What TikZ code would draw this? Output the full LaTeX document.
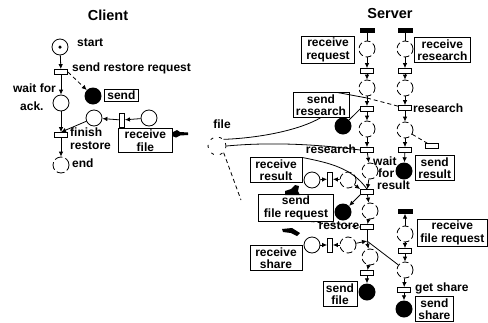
\documentclass[tikz,border=0pt]{standalone}
\usepackage{fontspec}
\setmainfont{Liberation Sans}
\usetikzlibrary{arrows.meta}

\tikzset{
  txt/.style={font=\bfseries\fontsize{12}{12.5}\selectfont, inner sep=0pt, align=left},
  ttl/.style={font=\bfseries\fontsize{14.5}{14}\selectfont, inner sep=0pt},
  lbox/.style={txt, draw, line width=0.7pt, inner xsep=3pt, inner ysep=1.5pt, align=center},
  place/.style={circle, draw, line width=0.8pt, minimum size=16pt, inner sep=0pt},
  dplace/.style={place, dash pattern=on 6pt off 3pt},
  token/.style={circle, fill=black, minimum size=17pt, inner sep=0pt},
  mark0/.style={circle, fill=black, minimum size=3.5pt, inner sep=0pt},
  htrans/.style={rectangle, draw, line width=0.8pt, minimum width=13pt, minimum height=5pt, inner sep=0pt, fill=white},
  vtrans/.style={htrans, minimum width=5pt, minimum height=14pt},
  hbar/.style={rectangle, fill=black, minimum width=15pt, minimum height=5pt, inner sep=0pt},
  arc/.style={line width=0.8pt, -{Latex[length=5pt,width=4.5pt]}},
  link/.style={line width=0.8pt},
  dlink/.style={link, dash pattern=on 4pt off 3pt},
  blob/.style={fill=black},
}

\begin{document}
\begin{tikzpicture}[x=1pt, y=-1pt]
\useasboundingbox (0,0) rectangle (488,322);

% ---------------- Client ----------------
\node[ttl] (ctitle) at (108,15) {Client};

\node[place] (start) at (60,47) {};
\node[mark0] (starttok) at (start) {};
\node[txt, anchor=west] (lstart) at (77,43) {start};

\node[htrans] (t1) at (61,72) {};
\node[txt, anchor=west] (lt1) at (72,68) {send restore request};

\node[place] (wait) at (61,103) {};
\node[txt, anchor=east] (lwait) at (56,88) {wait for};
\node[txt, anchor=west] (lack) at (20,106) {ack.};

\node[token] (csend) at (93,96) {};
\node[lbox, anchor=west] (csendb) at (104,95.5) {send};

\node[htrans] (t2) at (61,135) {};
\node[txt, anchor=north west] (lt2) at (70,128) {finish\\restore};

\node[place] (crp) at (94,118) {};
\node[vtrans] (cvt) at (122,120) {};
\node[place] (cin) at (149,118) {};
\node[lbox, anchor=north west, minimum width=54pt] (cfile) at (118,128) {receive\\file};

\node[place, dash pattern=on 8pt off 3pt] (cend) at (61,165) {};
\node[txt, anchor=west] (lend) at (72,163) {end};

\draw[arc] (start) -- (t1);
\draw[arc] (t1) -- (wait);
\draw[dlink, -{Latex[length=5pt,width=4.5pt]}] (t1.east) -- (csend);
\draw[arc] (wait) -- (t2);
\draw[arc] (cin) -- (cvt);
\draw[arc] (cvt) -- (crp);
\draw[arc] (crp) -- (t2.north);
\draw[arc] (t2) -- (cend);

% pointer mark beside the receive box
\fill[blob] (172,136) -- (173,132) -- (177,130) -- (180,132) -- (188,132.5) -- (188,135) -- (180,135.5) -- (176,137.5) -- cycle;

% ---------------- Server ----------------
\node[ttl] (stitle) at (390,14) {Server};

% left column
\node[hbar]   (a0)  at (367,30) {};
\node[dplace] (a1)  at (367,49) {};
\node[htrans] (a2)  at (367,71) {};
\node[dplace] (a3)  at (367,88) {};
\coordinate   (aj1) at (367,98);
\node[htrans] (a4)  at (367,109) {};
\node[dplace] (a5)  at (367,129) {};
\node[htrans] (a6)  at (367,150) {};
\node[dplace] (a7)  at (370,171) {};
\node[htrans] (a8)  at (367,192) {};
\node[dplace] (a9)  at (370,211) {};
\node[htrans] (a10) at (367,227) {};
\coordinate   (aj2) at (367,241);
\node[dplace] (a11) at (370,257) {};
\node[htrans] (a12) at (367,273) {};
\node[token]  (sfile) at (367,292) {};

% right column, upper net
\node[hbar]   (b0) at (405,30) {};
\node[dplace] (b1) at (405,49) {};
\node[htrans] (b2) at (405,71) {};
\node[dplace] (b3) at (405,88) {};
\node[htrans] (b4) at (405,108) {};
\node[dplace] (b5) at (405,130) {};
\node[htrans] (b6) at (405,150) {};
\node[htrans] (b7) at (432,146) {};
\node[token]  (sres) at (404,171) {};

% right column, lower net
\node[hbar]   (c0) at (405,211) {};
\node[dplace] (c1) at (405,234) {};
\node[htrans] (c2) at (405,251) {};
\node[dplace] (c3) at (405,270) {};
\node[htrans] (c4) at (404,290) {};
\node[token]  (sshare) at (404,309) {};

% receive result / receive share helpers
\node[place]  (rrL) at (312,180) {};
\node[vtrans] (rrV) at (330,179) {};
\node[dplace] (rrR) at (348,180) {};
\node[place]  (rsL) at (312,245) {};
\node[vtrans] (rsV) at (330,245) {};
\node[dplace] (rsR) at (348,245) {};

\node[token] (ssr)  at (343,126) {};
\node[token] (sfr)  at (343,212) {};

% file place
\node[place, dash pattern=on 3pt off 6pt, minimum size=18pt] (file) at (217,146) {};
\node[txt] (lfile) at (222,124) {file};
\coordinate (fileend) at (241,200);

% labels and boxes
\node[lbox, minimum width=53pt] (brreq) at (328,50) {receive\\request};
\node[lbox, anchor=west] (brres) at (414,50) {receive\\research};
\node[lbox] (bsres) at (321,105) {send\\research};
\node[txt] (lresA) at (331,149) {research};
\node[txt, anchor=west] (lresB) at (413,108) {research};
\node[txt, anchor=west] (lw1) at (373,161) {wait};
\node[txt, anchor=west] (lw2) at (378,173) {for};
\node[txt, anchor=west] (lw3) at (377,185) {result};
\node[lbox, minimum width=52pt] (brrs) at (276,170) {receive\\result};
\node[lbox, minimum width=75pt] (bsfr) at (296,208) {send\\file request};
\node[txt] (lrest) at (339,226) {restore};
\node[lbox, minimum width=52pt] (brsh) at (276,258) {receive\\share};
\node[lbox] (bsfile) at (340,294) {send\\file};
\node[lbox, anchor=west] (bsresult) at (415,168) {send\\result};
\node[lbox, anchor=west] (brfr) at (417,233) {receive\\file request};
\node[txt, anchor=west] (lgs) at (415,288) {get share};
\node[lbox, anchor=west] (bssh) at (415,309) {send\\share};

% left column arcs
\draw[link] (a0) -- (a1);
\draw[arc] (a1) -- (a2);
\draw[arc] (a2) -- (a3);
\draw[link] (a3) -- (aj1);
\draw[arc] (aj1) -- (a4);
\draw[link] (a4.west) -- (ssr);
\draw[arc] (a4) -- (a5);
\draw[arc] (a5) -- (a6);
\draw[arc] (a6) -- (a7);
\draw[arc] (a7) -- (a8);
\draw[arc] (a8.south west) -- (sfr);
\draw[arc] (a8) -- (a9);
\draw[arc] (a9) -- (a10);
\draw[link] (a10) -- (aj2);
\draw[arc] (aj2) -- (a11);
\draw[arc] (a11) -- (a12);
\draw[arc] (a12) -- (sfile);

% right column arcs
\draw[link] (b0) -- (b1);
\draw[arc] (b1) -- (b2);
\draw[arc] (b2) -- (b3);
\draw[arc] (b3) -- (b4);
\draw[arc] (b4) -- (b5);
\draw[arc] (b5) -- (b6);
\draw[arc] (b6) -- (sres);
\draw[dlink] (b5) -- (b7);
\draw[dlink] (aj1) -- (b4);

\draw[arc] (c1) -- (c0);
\draw[arc] (c1) -- (c2);
\draw[arc] (c2) -- (c3);
\draw[arc] (c3) -- (c4);
\draw[arc] (c4) -- (sshare);

% receive result and receive share
\draw[arc] (rrL) -- (rrV);
\draw[arc] (rrR) -- (rrV);
\draw[link] (brrs.north east) .. controls (330,163) and (352,168) .. (a8.north);
\draw[arc] (rrR) -- (a8.north west);
\draw[arc] (rsL) -- (rsV);
\draw[arc] (rsR) -- (rsV);
\draw[arc] (rsR) -- (aj2);
\draw[link] (aj2) -- (c3);

% send research and file links
\draw[link] (bsres.north east) ++(-12,0) -- (aj1);
\draw[link] (bsres.south) .. controls (300,130) and (260,138) .. (file.north east);
\draw[link] (file.east) .. controls (280,141) and (330,146) .. (a6.west);
\draw[dlink] (file.south east) -- (fileend);
\draw[dlink] (brsh.north east) ++(8,-24) -- (a10.west);

% pointer marks
\fill[blob] (285,195) -- (285,191) -- (291,189) -- (295,185) -- (299,186) -- (298,191) -- (300,195) -- cycle;
\fill[blob] (282,229) -- (292,228) -- (300,233) -- (297,236) -- (291,233) -- (283,232) -- cycle;
\end{tikzpicture}
\end{document}
